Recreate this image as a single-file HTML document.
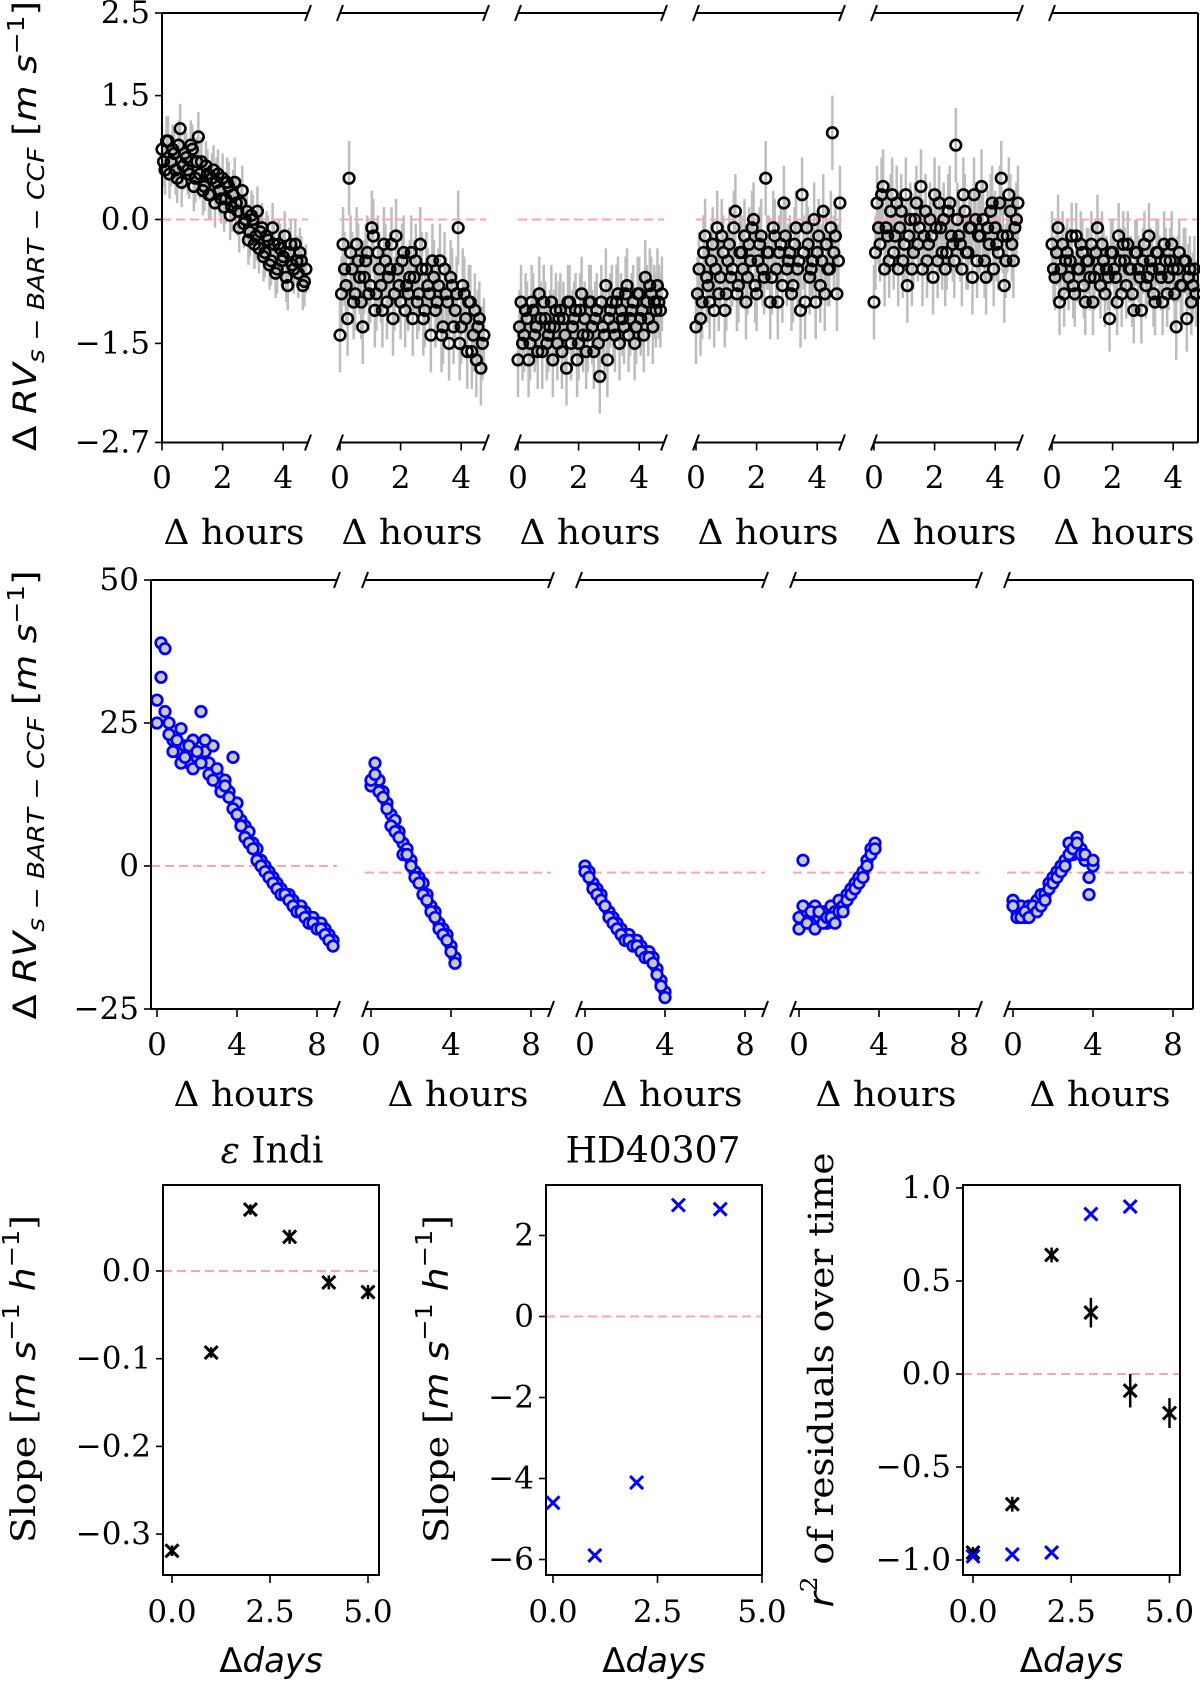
<!DOCTYPE html>
<html><head><meta charset="utf-8"><style>
html,body{margin:0;padding:0;background:#fff;}
svg{display:block;font-family:"DejaVu Serif","Liberation Serif",serif;}
</style></head><body>
<svg id="fig" width="1200" height="1682" viewBox="0 0 1200 1682" xmlns="http://www.w3.org/2000/svg">
<g id="top-axes"></g>
<g id="mid-axes"></g>
<g id="bot-axes"></g>
<text transform="translate(36,226) rotate(-90)" text-anchor="middle" font-family="DejaVu Sans, sans-serif" font-size="32" textLength="450" lengthAdjust="spacingAndGlyphs">Δ <tspan font-style="italic">RV</tspan><tspan font-size="23" font-style="italic" dy="8">s − BART</tspan><tspan font-size="23" dy="0"> − </tspan><tspan font-size="23" font-style="italic">CCF</tspan><tspan dy="-8"> [</tspan><tspan font-style="italic">m s</tspan><tspan font-size="23" dy="-12">−1</tspan><tspan dy="12">]</tspan></text>
<text transform="translate(36,795) rotate(-90)" text-anchor="middle" font-family="DejaVu Sans, sans-serif" font-size="32" textLength="449" lengthAdjust="spacingAndGlyphs">Δ <tspan font-style="italic">RV</tspan><tspan font-size="23" font-style="italic" dy="8">s − BART</tspan><tspan font-size="23" dy="0"> − </tspan><tspan font-size="23" font-style="italic">CCF</tspan><tspan dy="-8"> [</tspan><tspan font-style="italic">m s</tspan><tspan font-size="23" dy="-12">−1</tspan><tspan dy="12">]</tspan></text>
</svg>
<script>
// ---------- data ----------
const TOP_HOURS = [0,0.1,0.2,0.3,0.4,0.5,0.6,0.7,0.8,0.9,1.0,1.1,1.2,1.3,1.4,1.5,1.6,1.7,1.8,1.9,2.0,2.1,2.2,2.3,2.4,2.5,2.6,2.7,2.8,2.9,3.0,3.1,3.2,3.3,3.4,3.5,3.6,3.7,3.8,3.9,4.0,4.1,4.2,4.3,4.4,4.5,4.6,4.7];
const TOP_HOURS_B = [0.05,0.15,0.25,0.35,0.45,0.55,0.65,0.75,0.85,0.95,1.05,1.15,1.25,1.35,1.45,1.55,1.65,1.75,1.85,1.95,2.05,2.15,2.25,2.35,2.45,2.55,2.65,2.75,2.85,2.95,3.05,3.15,3.25,3.35,3.45,3.55,3.65,3.75,3.85,3.95,4.05,4.15,4.25,4.35,4.45,4.55,4.65,4.75];
const TOP_V1 = [0.85,0.6,0.95,0.7,0.8,0.5,1.1,0.65,0.75,0.55,0.85,0.5,1.0,0.7,0.4,0.55,0.3,0.6,0.45,0.35,0.5,0.25,0.4,0.15,0.45,0.1,0.2,-0.05,0.1,-0.15,0.0,-0.2,-0.35,-0.1,-0.4,-0.25,-0.5,-0.3,-0.6,-0.35,-0.45,-0.7,-0.4,-0.55,-0.3,-0.65,-0.5,-0.75];
const TOP_V2 = [-1.4,-0.3,-0.8,0.5,-0.6,-0.9,-0.5,-1.0,-0.7,-0.4,-0.8,-0.2,-0.9,-0.6,-1.1,-0.5,-0.7,-0.3,-0.9,-0.6,-1.0,-0.4,-0.8,-0.7,-1.2,-0.5,-0.9,-0.6,-1.1,-0.8,-1.4,-0.7,-1.0,-0.5,-1.3,-0.9,-1.5,-0.8,-1.1,-0.1,-1.3,-0.9,-1.6,-1.0,-1.4,-1.7,-1.2,-1.5];
const TOP_V3 = [-1.7,-1.0,-1.4,-1.2,-1.5,-1.1,-1.3,-0.9,-1.6,-1.2,-1.4,-1.0,-1.3,-1.5,-1.1,-1.2,-1.8,-1.0,-1.3,-1.1,-1.5,-0.9,-1.2,-1.4,-1.0,-1.6,-1.1,-1.9,-1.3,-0.8,-1.2,-1.0,-1.4,-0.9,-1.1,-1.3,-0.8,-1.2,-1.0,-1.3,-0.9,-1.1,-0.7,-1.2,-0.9,-1.0,-0.8,-1.1];
const TOP_V4 = [-1.3,-0.6,-1.0,-0.2,-0.8,-0.5,-1.1,-0.1,-0.7,-0.4,-0.9,-0.3,-0.6,0.1,-0.8,-0.4,-0.2,-0.7,-0.5,0.0,-0.9,-0.3,-0.6,0.5,-0.4,-0.7,-0.2,-1.0,-0.3,0.2,-0.6,-0.4,-0.8,-0.1,-0.5,0.3,-1.0,-0.3,-0.6,0.0,-0.4,-0.8,0.1,-0.3,-0.6,1.05,-0.2,-0.5];
const TOP_V5 = [-1.0,0.2,-0.3,0.4,-0.1,-0.5,0.3,-0.2,-0.6,0.1,-0.3,-0.8,0.0,-0.4,0.2,-0.1,-0.6,0.1,-0.3,-0.2,0.3,-0.5,-0.1,0.0,-0.4,0.2,-0.3,0.9,-0.2,-0.6,0.1,-0.4,-0.1,0.3,-0.5,-0.2,0.0,-0.7,-0.3,0.2,-0.1,-0.4,0.5,-0.8,-0.2,0.1,-0.5,0.0];
const TOP_V6 = [-0.3,-0.7,-0.1,-0.6,-0.9,-0.4,-0.5,-0.8,-0.2,-0.6,-0.4,-1.0,-0.5,-0.3,-0.7,-0.1,-0.8,-0.5,-0.6,-1.2,-0.4,-0.7,-0.2,-0.9,-0.5,-0.3,-0.6,-1.1,-0.4,-0.7,-0.5,-0.8,-0.2,-0.6,-1.0,-0.4,-0.7,-0.3,-0.9,-0.5,-0.6,-1.3,-0.4,-0.8,-0.5,-0.7,-1.0,-0.6];
const TOP_V1B = [0.7,0.95,0.55,0.85,0.6,0.9,0.45,0.8,0.6,0.9,0.4,0.7,0.55,0.35,0.65,0.3,0.5,0.2,0.55,0.25,0.15,0.45,0.05,0.3,0.2,-0.1,0.35,0.0,-0.25,0.05,-0.3,0.1,-0.15,-0.45,-0.2,-0.55,-0.1,-0.65,-0.3,-0.5,-0.2,-0.8,-0.3,-0.6,-0.5,-0.4,-0.8,-0.6];
const TOP_V2B = [-0.9,-0.6,-1.2,-0.4,-1.0,-0.3,-0.7,-1.3,-0.5,-0.9,-0.1,-1.1,-0.4,-0.8,-0.3,-1.0,-0.6,-1.2,-0.2,-0.8,-0.5,-1.1,-0.9,-0.4,-0.7,-1.0,-0.3,-1.2,-0.6,-0.9,-0.5,-1.1,-0.8,-1.4,-0.6,-1.0,-0.7,-1.3,-0.9,-1.5,-0.8,-1.2,-1.0,-1.6,-1.1,-1.3,-1.8,-1.4];
const TOP_V3B = [-1.3,-1.5,-1.1,-1.7,-1.0,-1.4,-1.6,-1.2,-1.0,-1.5,-1.3,-1.7,-1.1,-1.2,-1.6,-1.4,-1.0,-1.5,-1.2,-1.7,-1.1,-1.4,-1.6,-1.0,-1.3,-1.2,-1.5,-1.0,-1.4,-1.7,-1.1,-1.3,-1.0,-1.5,-1.2,-0.9,-1.4,-1.1,-1.5,-0.9,-1.2,-1.4,-1.0,-0.8,-1.3,-1.1,-1.0,-0.9];
const TOP_V4B = [-0.9,-1.2,-0.4,-0.7,-1.0,-0.3,-0.6,-0.9,-0.2,-1.1,-0.5,-0.7,-0.1,-0.9,-0.4,-0.6,-1.0,-0.3,-0.1,-0.8,-0.5,-0.2,-0.7,-0.4,-1.0,-0.1,-0.6,-0.4,-0.8,-0.2,-0.5,-0.9,-0.3,-0.6,-1.1,-0.4,-0.1,-0.7,-0.5,-1.0,-0.2,-0.5,-0.9,-0.6,-0.1,-0.4,-0.9,0.2];
const TOP_V5B = [-0.4,-0.1,0.3,-0.6,-0.2,0.1,-0.4,0.2,-0.1,-0.5,0.3,-0.2,-0.6,0.0,-0.3,0.4,-0.2,-0.5,0.0,-0.7,-0.1,0.2,-0.4,-0.6,0.1,-0.2,-0.5,0.0,-0.3,0.3,-0.4,-0.1,-0.7,0.0,-0.2,0.4,-0.5,-0.1,0.1,-0.6,-0.3,0.2,-0.2,-0.5,0.3,-0.3,-0.1,0.2];
const TOP_V6B = [-0.6,-0.4,-1.0,-0.3,-0.5,-0.7,-0.2,-0.9,-0.6,-0.3,-0.8,-0.5,-0.7,-1.0,-0.4,-0.6,-0.3,-0.9,-0.7,-0.4,-0.6,-1.0,-0.5,-0.3,-0.8,-0.6,-0.9,-0.4,-0.6,-1.1,-0.3,-0.7,-0.5,-0.9,-0.4,-0.6,-1.0,-0.5,-0.7,-0.3,-0.9,-0.6,-0.8,-0.5,-1.2,-0.6,-0.8,-0.9];
const TOP_ERR = [0.3,0.45,0.45,0.45,0.45,0.4];
const TOP_REF = [0,0,0,0,0,0];
const TOP_Y_TICKS = [2.5,1.5,0.0,-1.5,-2.7];
const TOP_Y_LABELS = ["2.5","1.5","0.0","−1.5","−2.7"];
const TOP_X_TICKS = [0,2,4];

const MID_H1 = [0,0.2,0.4,0.6,0.8,1.0,1.2,1.4,1.6,1.8,2.0,2.2,2.4,2.6,2.8,3.0,3.2,3.4,3.6,3.8,4.0,4.2,4.4,4.6,4.8,5.0,5.2,5.4,5.6,5.8,6.0,6.2,6.4,6.6,6.8,7.0,7.2,7.4,7.6,7.8,8.0,8.2,8.4,8.6,8.8];
const MID_V1 = [29,39,38,25,22,20,24,21,18,22,19,27,20,18,21,16,14,15,13,19,11,8,7,6,4,3,1,0,-1,-2,-3,-4,-5,-5,-6,-7,-7,-8,-9,-9,-10,-10,-11,-12,-13];
const MID_V1B = [25,33,27,23,20,22,18,19,21,17,20,18,22,16,15,17,13,14,12,10,9,7,5,4,3,1,0,-1,-2,-3,-4,-5,-5,-6,-7,-8,-8,-9,-10,-10,-11,-11,-12,-13,-14];
const MID_H2 = [0,0.2,0.4,0.6,0.8,1.0,1.2,1.4,1.6,1.8,2.0,2.2,2.4,2.6,2.8,3.0,3.2,3.4,3.6,3.8,4.0,4.2];
const MID_V2 = [14,18,15,13,11,9,8,6,4,3,1,-1,-2,-3,-5,-7,-8,-10,-11,-12,-14,-16];
const MID_V2B = [15,16,13,12,10,7,6,5,2,2,0,-2,-3,-5,-6,-8,-9,-11,-12,-13,-15,-17];
const MID_H3 = [0,0.2,0.4,0.6,0.8,1.0,1.2,1.4,1.6,1.8,2.0,2.2,2.4,2.6,2.8,3.0,3.2,3.4,3.6,3.8,4.0];
const MID_V3 = [0,-1,-3,-4,-5,-7,-8,-9,-10,-11,-12,-12,-13,-13,-14,-15,-15,-16,-18,-20,-22];
const MID_V3B = [-1,-2,-4,-5,-6,-7,-9,-10,-11,-12,-13,-13,-14,-14,-15,-16,-16,-17,-19,-21,-23];
const MID_H4 = [0,0.2,0.4,0.6,0.8,1.0,1.2,1.4,1.6,1.8,2.0,2.2,2.4,2.6,2.8,3.0,3.2,3.4,3.6,3.8];
const MID_V4 = [-9,1,-8,-10,-7,-9,-8,-10,-7,-8,-6,-7,-5,-4,-3,-2,-1,1,3,4];
const MID_V4B = [-11,-7,-10,-8,-11,-8,-10,-9,-9,-10,-8,-8,-6,-5,-4,-3,-2,0,2,3];
const MID_H5 = [0,0.2,0.4,0.6,0.8,1.0,1.2,1.4,1.6,1.8,2.0,2.2,2.4,2.6,2.8,3.0,3.2,3.4,3.6,3.8,4.0];
const MID_V5 = [-6,-8,-7,-9,-7,-8,-6,-5,-5,-3,-2,-1,0,1,4,2,5,3,1,-5,0];
const MID_V5B = [-7,-9,-9,-8,-9,-7,-8,-7,-6,-4,-3,-2,-1,0,2,3,4,2,2,-2,1];
const MID_REF = [0,-1.15,-1.15,-1.15,-1.15];
const MID_Y_TICKS = [50,25,0,-25];
const MID_Y_LABELS = ["50","25","0","−25"];
const MID_X_TICKS = [0,4,8];

const A_DAYS = [0,1,2,3,4,5];
const A_SLOPE = [-0.319,-0.093,0.07,0.039,-0.013,-0.024];
const A_ERR = [0.006,0.006,0.006,0.008,0.008,0.008];
const A_Y_TICKS = [0.0,-0.1,-0.2,-0.3];
const A_Y_LABELS = ["0.0","−0.1","−0.2","−0.3"];
const B_DAYS = [0,1,2,3,4];
const B_SLOPE = [-4.6,-5.9,-4.1,2.75,2.65];
const B_Y_TICKS = [2,0,-2,-4,-6];
const B_Y_LABELS = ["2","0","−2","−4","−6"];
const C_DAYS_K = [0,1,2,3,4,5];
const C_R2_K = [-0.96,-0.70,0.64,0.33,-0.09,-0.21];
const C_ERR_K = [0.03,0.04,0.04,0.08,0.09,0.08];
const C_DAYS_B = [0,1,2,3,4];
const C_R2_B = [-0.98,-0.97,-0.96,0.86,0.90];
const C_Y_TICKS = [1.0,0.5,0.0,-0.5,-1.0];
const C_Y_LABELS = ["1.0","0.5","0.0","−0.5","−1.0"];
const DAY_TICKS = [0,2.5,5];
const DAY_LABELS = ["0.0","2.5","5.0"];

// ---------- helpers ----------
const NS = "http://www.w3.org/2000/svg";
const TICK_FS = 31;
function mk(parent, tag, attrs){
  const e = document.createElementNS(NS, tag);
  for (const k in attrs) e.setAttribute(k, attrs[k]);
  parent.appendChild(e);
  return e;
}
function ln(p, x1,y1,x2,y2, col, w, dash){
  const e = mk(p,'line',{x1:x1,y1:y1,x2:x2,y2:y2,stroke:col,'stroke-width':w});
  if (dash) e.setAttribute('stroke-dasharray', dash);
  return e;
}
function tx(p, x, y, s, size, anchor){
  const e = mk(p,'text',{x:x,y:y,'font-size':size,'text-anchor':anchor||'middle','dominant-baseline':'central',fill:'#000','font-family':'DejaVu Serif, serif'});
  e.textContent = s;
  return e;
}
const REDLINE = '#f7a8a8';

// ---------- top chart ----------
const TY0 = 13, TY1 = 442.5;
const gTop = document.getElementById('top-axes');
const TOP_VALS = [TOP_V1,TOP_V2,TOP_V3,TOP_V4,TOP_V5,TOP_V6];
const TOP_VALS_B = [TOP_V1B,TOP_V2B,TOP_V3B,TOP_V4B,TOP_V5B,TOP_V6B];
const yTop = v => TY0 + (2.5 - v) * ((TY1-TY0)/5.2);
for (let i=0;i<6;i++){
  const x0 = 162 + 178*i, x1 = x0 + 146;
  const xh = h => x0 + h*30.3;
  const g = mk(gTop,'g',{});
  
  
  const sets = [[TOP_HOURS, TOP_VALS[i]], [TOP_HOURS_B, TOP_VALS_B[i]]];
  sets.forEach(([hs, vals])=>{
    for (let k=0;k<vals.length;k++){
      const eb = ln(g, xh(hs[k]), yTop(vals[k]+TOP_ERR[i]), xh(hs[k]), yTop(vals[k]-TOP_ERR[i]), '#bdbdbd', 2.5);
      
      
    }
  });
  const ref = ln(g, x0, yTop(TOP_REF[i]), x1, yTop(TOP_REF[i]), REDLINE, 2, '9,5');
  
  
  sets.forEach(([hs, vals])=>{
    for (let k=0;k<vals.length;k++){
      const c = mk(g,'circle',{cx:xh(hs[k]), cy:yTop(vals[k]), r:5.3, fill:'none', stroke:'#000', 'stroke-width':2.6});
      
      
    }
  });
  ln(g, x0, TY0, x1, TY0, '#000', 2);
  ln(g, x0, TY1, x1, TY1, '#000', 2);
  if (i===0){ ln(g, x0, TY0, x0, TY1, '#000', 2);
    TOP_Y_TICKS.forEach((t,j)=>{ ln(g, x0-7, yTop(t), x0, yTop(t), '#000', 1.6);
      const l = tx(g, x0-12, yTop(t), TOP_Y_LABELS[j], TICK_FS, 'end');
      
       });
  } else { ln(g, x0-3, TY0+8, x0+3, TY0-8, '#000', 2); ln(g, x0-3, TY1+8, x0+3, TY1-8, '#000', 2); }
  if (i===5){ ln(g, x1, TY0, x1, TY1, '#000', 2); }
  else { ln(g, x1-3, TY0+8, x1+3, TY0-8, '#000', 2); ln(g, x1-3, TY1+8, x1+3, TY1-8, '#000', 2); }
  TOP_X_TICKS.forEach(t=>{ ln(g, xh(t), TY1, xh(t), TY1+8, '#000', 1.6);
    const l = tx(g, xh(t), 478, String(t), TICK_FS);
    
     });
  const xl = tx(g, x0+72, 533, 'Δ hours', 35);
  xl.setAttribute('textLength', 141);
  xl.setAttribute('lengthAdjust', 'spacingAndGlyphs');
  
  
}

// ---------- middle chart ----------
const MY0 = 580, MY1 = 1009;
const gMid = document.getElementById('mid-axes');
const MID_HS = [MID_H1,MID_H2,MID_H3,MID_H4,MID_H5];
const MID_VS = [MID_V1,MID_V2,MID_V3,MID_V4,MID_V5];
const MID_VS_B = [MID_V1B,MID_V2B,MID_V3B,MID_V4B,MID_V5B];
const yMid = v => MY0 + (50 - v) * ((MY1-MY0)/75);
for (let i=0;i<5;i++){
  const x0 = 151 + 214*i, x1 = x0 + 186;
  const xh = h => x0 + 6 + h*20;
  const g = mk(gMid,'g',{});
  
  
  const ref = ln(g, x0, yMid(MID_REF[i]), x1, yMid(MID_REF[i]), REDLINE, 2, '9,5');
  
  
  const hs = MID_HS[i];
  [MID_VS[i], MID_VS_B[i]].forEach(vs=>{
    for (let k=0;k<vs.length;k++){
      const c = mk(g,'circle',{cx:xh(hs[k]), cy:yMid(vs[k]), r:5.3, fill:'#c8c8c8', stroke:'#0000ff', 'stroke-width':2.7});
      
      
    }
  });
  ln(g, x0, MY0, x1, MY0, '#000', 2);
  ln(g, x0, MY1, x1, MY1, '#000', 2);
  if (i===0){ ln(g, x0, MY0, x0, MY1, '#000', 2);
    MID_Y_TICKS.forEach((t,j)=>{ ln(g, x0-7, yMid(t), x0, yMid(t), '#000', 1.6);
      const l = tx(g, x0-12, yMid(t), MID_Y_LABELS[j], TICK_FS, 'end');
      
       });
  } else { ln(g, x0-3, MY0+8, x0+3, MY0-8, '#000', 2); ln(g, x0-3, MY1+8, x0+3, MY1-8, '#000', 2); }
  if (i===4){ ln(g, x1, MY0, x1, MY1, '#000', 2); }
  else { ln(g, x1-3, MY0+8, x1+3, MY0-8, '#000', 2); ln(g, x1-3, MY1+8, x1+3, MY1-8, '#000', 2); }
  MID_X_TICKS.forEach(t=>{ ln(g, xh(t), MY1, xh(t), MY1+8, '#000', 1.6);
    const l = tx(g, xh(t), 1045, String(t), TICK_FS);
    
     });
  const xl = tx(g, x0+93, 1095, 'Δ hours', 35);
  xl.setAttribute('textLength', 141);
  xl.setAttribute('lengthAdjust', 'spacingAndGlyphs');
  
  
}

// ---------- bottom panels ----------
const BY0 = 1185, BY1 = 1575;
const gBot = document.getElementById('bot-axes');
function xMark(g, x, y, col){
  const s = 6.5;
  const m = mk(g,'path',{d:`M${x-s},${y-s}L${x+s},${y+s}M${x-s},${y+s}L${x+s},${y-s}`, stroke:col, 'stroke-width':3, fill:'none'});
  
  
}
function frame(name, fx0, fx1, xd, yv, yTicks, yLabels){
  const g = mk(gBot,'g',{});
  
  
  const ref = ln(g, fx0, yv(0), fx1, yv(0), REDLINE, 2, '9,5');
  
  
  mk(g,'rect',{x:fx0, y:BY0, width:fx1-fx0, height:BY1-BY0, fill:'none', stroke:'#000', 'stroke-width':2});
  yTicks.forEach((t,j)=>{ ln(g, fx0-7, yv(t), fx0, yv(t), '#000', 1.6);
    const l = tx(g, fx0-12, yv(t), yLabels[j], TICK_FS, 'end');
    
     });
  DAY_TICKS.forEach((t,j)=>{ ln(g, xd(t), BY1, xd(t), BY1+8, '#000', 1.6);
    const l = tx(g, xd(t), 1612, DAY_LABELS[j], TICK_FS);
    
     });
  const xl = mk(g,'text',{x:(fx0+fx1)/2, y:1661, 'font-size':34, 'text-anchor':'middle', 'dominant-baseline':'central', 'font-family':'DejaVu Sans, sans-serif'});
  xl.innerHTML = 'Δ<tspan font-style="italic">days</tspan>';
  
  
  return g;
}
// panel A
const xA = d => 172 + d*39.2, yA = v => 1271 - v*877;
const gA = frame('epsilon-indi-slope-panel', 163, 379, xA, yA, A_Y_TICKS, A_Y_LABELS);
A_DAYS.forEach((d,k)=>{ ln(gA, xA(d), yA(A_SLOPE[k]+A_ERR[k]), xA(d), yA(A_SLOPE[k]-A_ERR[k]), '#000', 2.5); xMark(gA, xA(d), yA(A_SLOPE[k]), '#000'); });
const tA = mk(gA,'text',{x:272, y:1151, 'font-size':36, 'text-anchor':'middle', 'dominant-baseline':'central'});
tA.innerHTML = '<tspan font-style="italic">ε</tspan> Indi';


// panel B
const xB = d => 553 + d*41.8, yB = v => 1316.5 - v*40.5;
const gB = frame('hd40307-slope-panel', 546, 762, xB, yB, B_Y_TICKS, B_Y_LABELS);
B_DAYS.forEach((d,k)=>{ xMark(gB, xB(d), yB(B_SLOPE[k]), '#0000ff'); });
const tB = tx(gB, 653, 1151, 'HD40307', 36);


// panel C
const xC = d => 973 + d*39.3, yC = v => 1374 - v*186;
const gC = frame('r-squared-panel', 963, 1180, xC, yC, C_Y_TICKS, C_Y_LABELS);
C_DAYS_K.forEach((d,k)=>{ ln(gC, xC(d), yC(C_R2_K[k]+C_ERR_K[k]), xC(d), yC(C_R2_K[k]-C_ERR_K[k]), '#000', 2.5); xMark(gC, xC(d), yC(C_R2_K[k]), '#000'); });
C_DAYS_B.forEach((d,k)=>{ xMark(gC, xC(d), yC(C_R2_B[k]), '#0000ff'); });

// y-axis titles for bottom
function slopeLabel(x, name){
  const t = mk(gBot,'text',{transform:`translate(${x},1379) rotate(-90)`, 'font-size':34, 'text-anchor':'middle', 'dominant-baseline':'central', textLength:328, lengthAdjust:'spacingAndGlyphs'});
  t.innerHTML = 'Slope [<tspan font-family="DejaVu Sans, sans-serif" font-style="italic">m s</tspan><tspan font-family="DejaVu Sans, sans-serif" font-size="23" dy="-12">−1</tspan><tspan font-family="DejaVu Sans, sans-serif" font-style="italic" dy="12"> h</tspan><tspan font-family="DejaVu Sans, sans-serif" font-size="23" dy="-12">−1</tspan><tspan dy="12">]</tspan>';
  
  
}
slopeLabel(24, 'slope-y-axis-title-a');
slopeLabel(437, 'slope-y-axis-title-b');
const rt = mk(gBot,'text',{transform:'translate(822,1380) rotate(-90)', 'font-size':35, 'text-anchor':'middle', 'dominant-baseline':'central', textLength:455, lengthAdjust:'spacingAndGlyphs'});
rt.innerHTML = '<tspan font-family="DejaVu Sans, sans-serif" font-style="italic">r</tspan><tspan font-size="23" dy="-12">2</tspan><tspan dy="12"> of residuals over time</tspan>';


</script>
</body></html>
